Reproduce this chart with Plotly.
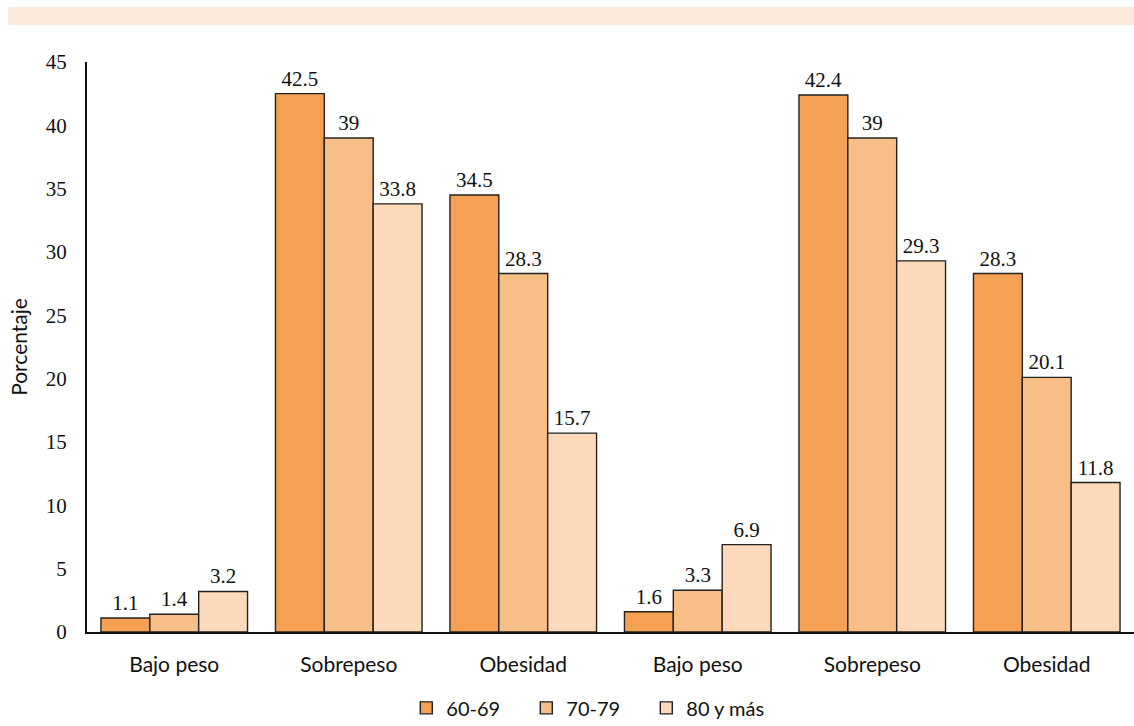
import plotly.graph_objects as go

categories = ["Bajo peso", "Sobrepeso", "Obesidad", "Bajo peso", "Sobrepeso", "Obesidad"]
cat_keys = ["c1", "c2", "c3", "c4", "c5", "c6"]
series_names = ["60-69", "70-79", "80 y más"]
v_60_69 = [1.1, 42.5, 34.5, 1.6, 42.4, 28.3]
v_70_79 = [1.4, 39, 28.3, 3.3, 39, 20.1]
v_80_mas = [3.2, 33.8, 15.7, 6.9, 29.3, 11.8]
y_ticks = [0, 5, 10, 15, 20, 25, 30, 35, 40, 45]

colors = ["#F4A153", "#F8BE87", "#FCD9BA"]
num_font = dict(family="Liberation Serif, serif", size=21, color="#111")
txt_font = dict(family="Lato, Noto Sans, sans-serif", size=21, color="#111")
leg_font = dict(family="Lato, Noto Sans, sans-serif", size=20, color="#111")

fig = go.Figure()
for name, vals, col in zip(series_names, [v_60_69, v_70_79, v_80_mas], colors):
    fig.add_trace(go.Bar(
        x=cat_keys, y=vals, name=name,
        marker=dict(color=col, line=dict(color="#222", width=1.4)),
        text=[f"{v:g}" for v in vals], textposition="outside",
        textfont=num_font, cliponaxis=False,
    ))

fig.update_layout(
    width=1134, height=726,
    margin=dict(l=87, r=0, t=62, b=94),
    paper_bgcolor="white", plot_bgcolor="white",
    barmode="group", bargap=0.16, bargroupgap=0,
    showlegend=True,
    legend=dict(orientation="h", xref="container", yref="container",
                x=0.517, xanchor="center", y=0.025, yanchor="middle",
                font=leg_font, itemwidth=30, entrywidth=75, traceorder="normal"),
    xaxis=dict(type="category", tickmode="array", tickvals=cat_keys, ticktext=categories,
               showline=True, linecolor="#111", linewidth=2, showgrid=False,
               ticks="", tickfont=txt_font, ticklabelstandoff=13),
    yaxis=dict(range=[0, 45], tickmode="array", tickvals=y_ticks,
               showline=True, linecolor="#111", linewidth=2, showgrid=False, zeroline=False,
               ticks="", tickfont=num_font, ticklabelstandoff=14,
               title=dict(text="Porcentaje", font=txt_font, standoff=12)),
    shapes=[dict(type="rect", xref="paper", yref="paper",
                 x0=-0.0755, x1=1.0, y0=1.0649, y1=1.0965,
                 fillcolor="#FCEBDC", line=dict(width=0), layer="below")],
)

fig.write_html("out.html")
